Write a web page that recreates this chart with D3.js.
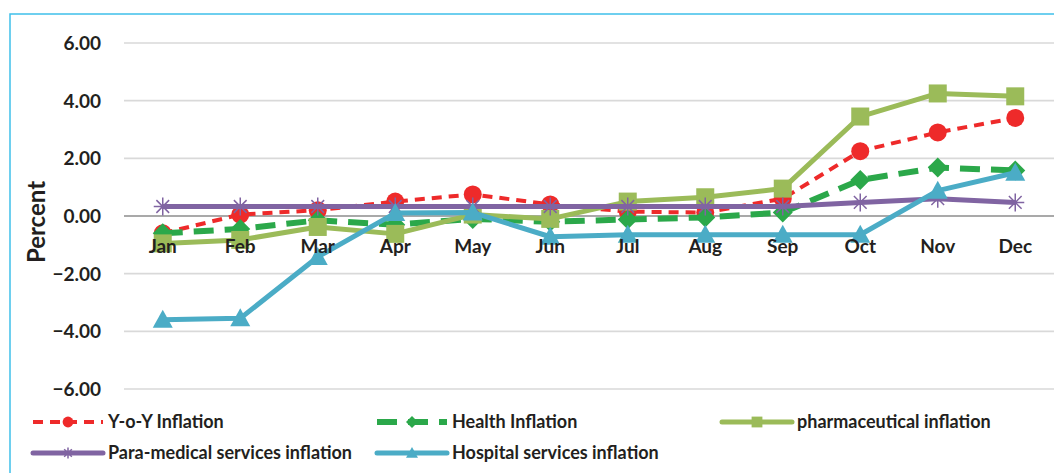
<!DOCTYPE html>
<html>
<head>
<meta charset="utf-8">
<script src="https://cdn.jsdelivr.net/npm/d3@7"></script>
<style>
  body { margin: 0; background: #fff; }
  text { font-family: Lato, "Open Sans", sans-serif; font-weight: bold; fill: #231f20; }
</style>
</head>
<body>
<svg id="chart" width="1054" height="473"></svg>
<script>
// months on the x axis
var months = ["Jan", "Feb", "Mar", "Apr", "May", "Jun", "Jul", "Aug", "Sep", "Oct", "Nov", "Dec"];

// series values (percent)
var yoyInflation      = [-0.6, 0.05, 0.2, 0.5, 0.75, 0.4, 0.15, 0.12, 0.6, 2.25, 2.9, 3.4];
var healthInflation   = [-0.6, -0.45, -0.15, -0.3, -0.1, -0.2, -0.12, -0.05, 0.12, 1.25, 1.68, 1.58];
var pharmaInflation   = [-0.95, -0.83, -0.38, -0.62, 0.05, -0.1, 0.5, 0.65, 0.95, 3.45, 4.25, 4.15];
var paraInflation     = [0.33, 0.33, 0.33, 0.33, 0.33, 0.33, 0.33, 0.33, 0.33, 0.47, 0.6, 0.47];
var hospitalInflation = [-3.6, -3.55, -1.42, 0.1, 0.12, -0.72, -0.65, -0.65, -0.65, -0.65, 0.88, 1.5];

var yTicks = [-6, -4, -2, 0, 2, 4, 6];

var series = [
    { name: "Y-o-Y Inflation", values: yoyInflation, color: "#ee2a2a", width: 4, dash: "10,7", marker: "circle" },
    { name: "Health Inflation", values: healthInflation, color: "#2ba84a", width: 6, dash: "20,11", marker: "diamond" },
    { name: "pharmaceutical inflation", values: pharmaInflation, color: "#9bbb59", width: 5, dash: null, marker: "square" },
    { name: "Para-medical services inflation", values: paraInflation, color: "#8064a2", width: 5, dash: null, marker: "star" },
    { name: "Hospital services inflation", values: hospitalInflation, color: "#4bacc6", width: 5, dash: null, marker: "triangle" }
];

var svg = d3.select("#chart");

// outer frame
svg.append("rect")
    .attr("x", 10).attr("y", 14)
    .attr("width", 1060).attr("height", 470)
    .attr("fill", "none")
    .attr("stroke", "#3fc0ea")
    .attr("stroke-width", 1.5);

var x = d3.scaleBand().domain(months).range([124, 1054]);
var y = d3.scaleLinear().domain([-6, 6]).range([389, 43]);

// gridlines
svg.append("g").selectAll("line")
    .data(yTicks)
    .join("line")
    .attr("x1", 124).attr("x2", 1054)
    .attr("y1", function (d) { return y(d); })
    .attr("y2", function (d) { return y(d); })
    .attr("stroke", function (d) { return d === 0 ? "#8c8c8c" : "#d9d9d9"; })
    .attr("stroke-width", 1.6);

// y tick labels
svg.append("g").selectAll("text")
    .data(yTicks)
    .join("text")
    .attr("x", 101)
    .attr("y", function (d) { return y(d); })
    .attr("dy", "0.36em")
    .attr("text-anchor", "end")
    .style("font-size", "19px")
    .text(function (d) { return d3.format(".2f")(d); });

// axis title
svg.append("text")
    .attr("transform", "translate(45,222) rotate(-90)")
    .attr("text-anchor", "middle")
    .style("font-size", "24px")
    .text("Percent");

function drawMarker(g, type, color, cx, cy, scale) {
    var k = scale || 1;
    if (type === "circle") {
        g.append("circle").attr("cx", cx).attr("cy", cy).attr("r", 9 * k).attr("fill", color);
    } else if (type === "diamond") {
        var s = 10 * k;
        g.append("path")
            .attr("d", "M" + cx + "," + (cy - s) + "L" + (cx + s) + "," + cy + "L" + cx + "," + (cy + s) + "L" + (cx - s) + "," + cy + "Z")
            .attr("fill", color);
    } else if (type === "square") {
        var h = 9 * k;
        g.append("rect").attr("x", cx - h).attr("y", cy - h).attr("width", 2 * h).attr("height", 2 * h).attr("fill", color);
    } else if (type === "triangle") {
        var t = 10 * k;
        g.append("path")
            .attr("d", "M" + cx + "," + (cy - t) + "L" + (cx + t) + "," + (cy + t * 0.8) + "L" + (cx - t) + "," + (cy + t * 0.8) + "Z")
            .attr("fill", color);
    } else if (type === "star") {
        var r = 9 * k;
        var p = "";
        [0, 45, 90, 135].forEach(function (a) {
            var rad = a * Math.PI / 180;
            p += "M" + (cx - r * Math.cos(rad)) + "," + (cy - r * Math.sin(rad)) +
                 "L" + (cx + r * Math.cos(rad)) + "," + (cy + r * Math.sin(rad));
        });
        g.append("path").attr("d", p).attr("stroke", color).attr("stroke-width", 1.5).attr("fill", "none");
    }
}

var line = d3.line()
    .x(function (d, i) { return x(months[i]) + x.bandwidth() / 2; })
    .y(function (d) { return y(d); });

series.forEach(function (s) {
    var g = svg.append("g");
    g.append("path")
        .attr("d", line(s.values))
        .attr("fill", "none")
        .attr("stroke", s.color)
        .attr("stroke-width", s.width)
        .attr("stroke-dasharray", s.dash)
        .attr("stroke-linejoin", "round");
    s.values.forEach(function (v, i) {
        drawMarker(g, s.marker, s.color, x(months[i]) + x.bandwidth() / 2, y(v));
    });
});

// month labels sit just under the zero line, drawn over the lines
svg.append("g").selectAll("text")
    .data(months)
    .join("text")
    .attr("x", function (d) { return x(d) + x.bandwidth() / 2; })
    .attr("y", y(0) + 37)
    .attr("text-anchor", "middle")
    .style("font-size", "19px")
    .text(function (d) { return d; });

// legend
var legendPos = [
    { x: 33, y: 422 }, { x: 377, y: 422 }, { x: 722, y: 422 },
    { x: 33, y: 453 }, { x: 377, y: 453 }
];

series.forEach(function (s, i) {
    var p = legendPos[i];
    var g = svg.append("g");
    g.append("line")
        .attr("x1", p.x).attr("x2", p.x + 70)
        .attr("y1", p.y).attr("y2", p.y)
        .attr("stroke", s.color)
        .attr("stroke-width", s.width)
        .attr("stroke-dasharray", s.dash)
        .attr("stroke-linecap", s.dash ? "butt" : "round");
    drawMarker(g, s.marker, s.color, p.x + 35, p.y, 0.6);
    g.append("text")
        .attr("x", p.x + 75)
        .attr("y", p.y)
        .attr("dy", "0.36em")
        .style("font-size", "18px")
        .text(s.name);
});
</script>
</body>
</html>
